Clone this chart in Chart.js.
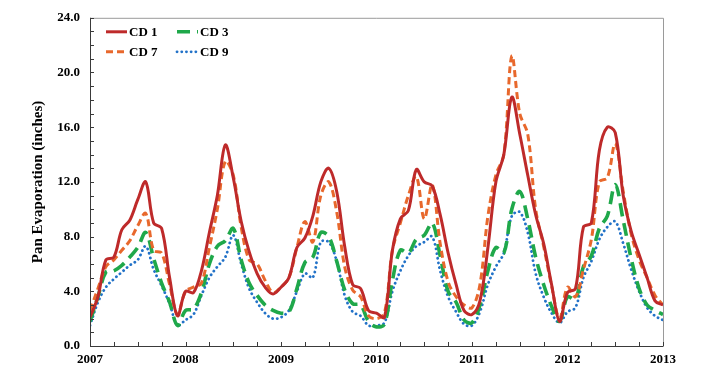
<!DOCTYPE html>
<html>
<head>
<meta charset="utf-8">
<script src="https://cdn.jsdelivr.net/npm/chart.js@4.4.1/dist/chart.umd.min.js"></script>
<style>
html,body{margin:0;padding:0;background:#fff;}
#wrap{width:702px;height:370px;}
</style>
</head>
<body>
<div id="wrap"><canvas id="c" width="702" height="370"></canvas></div>
<script>
// Monthly pan evaporation (inches), Jan 2007 .. Jan 2013 (73 months)
const yearLabels = ['2007','2008','2009','2010','2011','2012','2013'];
const seriesNames = ['CD 1','CD 7','CD 3','CD 9'];

const cd1 = [2.1,3.6,6.3,6.5,8.5,9.2,10.7,12.0,9.0,8.6,5.0,2.2,
             4.0,3.9,5.5,8.3,11.0,14.7,12.3,9.1,6.9,5.3,4.3,3.8,
             4.3,5.0,7.2,7.9,9.5,12.0,13.0,11.3,7.3,4.5,4.2,2.6,
             2.4,2.1,7.0,9.3,9.9,12.9,12.0,11.7,9.6,6.8,4.5,2.6,
             2.3,3.3,7.2,12.0,14.0,18.2,15.5,12.5,9.6,7.5,4.5,1.8,
             3.9,4.2,8.7,9.0,14.3,16.0,15.6,11.0,8.4,6.7,5.0,3.3,3.0];

const cd7 = [2.6,4.2,5.8,6.3,7.0,7.7,8.8,9.7,7.0,6.8,4.5,2.3,
             4.0,4.3,4.6,7.2,10.0,13.5,12.5,8.7,6.3,6.0,4.8,3.9,
             4.3,5.0,7.2,9.1,7.6,11.0,12.0,9.8,5.8,4.1,3.6,2.2,
             2.0,2.4,7.0,9.0,11.0,12.4,9.3,11.8,7.5,4.7,3.6,3.0,
             2.8,4.5,9.5,12.5,14.0,21.2,17.0,15.5,10.0,7.3,4.4,2.0,
             4.3,3.6,5.6,7.8,12.0,12.3,14.8,11.3,8.2,6.3,5.0,3.7,3.0];

const cd3 = [1.8,3.6,5.4,5.5,5.9,6.5,7.2,8.3,6.4,4.6,3.2,1.5,
             2.6,2.7,3.9,6.0,7.3,7.7,8.6,6.3,4.6,3.7,3.0,2.6,
             2.4,2.5,4.2,6.1,6.5,8.3,8.0,6.2,4.1,3.1,3.0,1.8,
             1.4,1.6,4.8,7.0,6.8,7.8,8.1,9.0,6.6,4.0,3.2,1.9,
             1.7,3.0,5.5,7.2,6.8,10.0,11.3,9.3,6.5,4.5,2.9,1.8,
             3.6,3.4,5.8,6.6,8.6,9.5,11.8,9.2,6.4,4.2,3.0,2.6,2.3];

const cd9 = [1.5,3.2,4.3,4.9,5.4,5.9,6.3,7.3,5.6,4.4,3.1,1.5,
             1.9,2.3,3.7,5.0,5.8,6.5,8.1,6.0,4.2,3.2,2.4,2.0,
             2.1,2.6,4.0,5.3,5.0,7.6,7.6,6.2,3.7,2.5,2.2,1.5,
             1.5,1.7,4.0,5.5,6.6,7.3,7.6,8.0,5.5,3.6,2.5,1.6,
             1.5,2.5,4.5,5.8,6.8,9.5,9.8,8.3,5.3,3.6,2.4,1.7,
             2.5,2.8,5.0,6.2,7.8,8.7,9.1,7.5,5.6,4.0,2.8,2.2,1.9];

const FONT = 'Liberation Serif, Times New Roman, serif';
const toXY = arr => arr.map((y, i) => ({x: i, y: y}));

const styles = {
  'CD 1': {color:'#BE2A2A', width:3,   dash:[],        cap:'butt'},
  'CD 7': {color:'#E8682C', width:3,   dash:[7,4],     cap:'butt'},
  'CD 3': {color:'#1FA84A', width:3.6, dash:[13,7],    cap:'butt'},
  'CD 9': {color:'#2272C8', width:2.8, dash:[0.1,4.6], cap:'round'}
};
const seriesData = {'CD 1':cd1,'CD 7':cd7,'CD 3':cd3,'CD 9':cd9};

// legend layout (column,row)
const legendPos = {'CD 1':[0,0],'CD 3':[1,0],'CD 7':[0,1],'CD 9':[1,1]};

const boxPlugin = {
  id:'boxTicks',
  afterDraw(chart){
    const ctx = chart.ctx, a = chart.chartArea;
    const xs = chart.scales.x, ys = chart.scales.y;
    ctx.save();
    ctx.lineWidth = 1;
    ctx.strokeStyle = '#9a9a9a';
    ctx.beginPath();
    ctx.moveTo(a.left, a.top+0.5); ctx.lineTo(a.right+0.5, a.top+0.5);
    ctx.lineTo(a.right+0.5, a.bottom);
    ctx.stroke();
    ctx.strokeStyle = '#3a3a3a';
    ctx.beginPath();
    ctx.moveTo(a.left+0.5, a.top); ctx.lineTo(a.left+0.5, a.bottom+0.5);
    ctx.lineTo(a.right+0.5, a.bottom+0.5);
    ctx.stroke();
    ctx.beginPath();
    xs.ticks.forEach(t => {
      const px = Math.round(xs.getPixelForValue(t.value)) + 0.5;
      ctx.moveTo(px, a.bottom); ctx.lineTo(px, a.bottom - 4);
    });
    ys.ticks.forEach(t => {
      const py = Math.round(ys.getPixelForValue(t.value)) + 0.5;
      ctx.moveTo(a.left, py); ctx.lineTo(a.left + 4, py);
    });
    ctx.stroke();
    ctx.font = 'bold 13px ' + FONT;
    ctx.textBaseline = 'middle';
    ctx.fillStyle = '#000';
    chart.data.datasets.forEach(ds => {
      const p = legendPos[ds.label];
      const st = styles[ds.label];
      const x0 = a.left + 16 + p[0]*71;
      const y0 = a.top + 14 + p[1]*20;
      ctx.save();
      ctx.strokeStyle = st.color;
      ctx.lineWidth = st.width;
      ctx.lineCap = st.cap;
      ctx.setLineDash(st.dash);
      ctx.beginPath();
      ctx.moveTo(x0, y0); ctx.lineTo(x0 + 21, y0);
      ctx.stroke();
      ctx.restore();
      ctx.fillText(ds.label, x0 + 23, y0 + 0.5);
    });
    ctx.restore();
  }
};

new Chart(document.getElementById('c'), {
  type:'line',
  data:{
    datasets: seriesNames.map(n => ({
      label:n,
      data: toXY(seriesData[n]),
      borderColor: styles[n].color,
      borderWidth: styles[n].width,
      borderDash: styles[n].dash,
      borderCapStyle: styles[n].cap,
      pointRadius:0,
      tension:0.35,
      fill:false
    }))
  },
  options:{
    responsive:false,
    animation:false,
    devicePixelRatio:1,
    layout:{padding:{left:0,right:39,top:13,bottom:0}},
    plugins:{legend:{display:false}, tooltip:{enabled:false}},
    scales:{
      x:{
        type:'linear', min:0, max:72,
        grid:{display:false, drawTicks:false},
        border:{display:false},
        ticks:{stepSize:3, autoSkip:false, maxRotation:0, minRotation:0, padding:6,
               color:'#000', font:{family:FONT, weight:'bold', size:13},
               callback: v => (v % 12 === 0) ? yearLabels[v/12] : ''},
        afterFit: s => { s.height = 24; }
      },
      y:{
        min:0, max:24,
        grid:{display:false, drawTicks:false},
        border:{display:false},
        ticks:{stepSize:1, autoSkip:false, padding:10,
               color:'#000', font:{family:FONT, weight:'bold', size:13},
               callback: v => (v % 4 === 0) ? v.toFixed(1) : ''},
        title:{display:true, text:'Pan Evaporation (inches)', color:'#000',
               font:{family:FONT, weight:'bold', size:15}, padding:{top:29,bottom:0}},
        afterFit: s => { s.width = 90; }
      }
    }
  },
  plugins:[boxPlugin]
});
</script>
</body>
</html>
